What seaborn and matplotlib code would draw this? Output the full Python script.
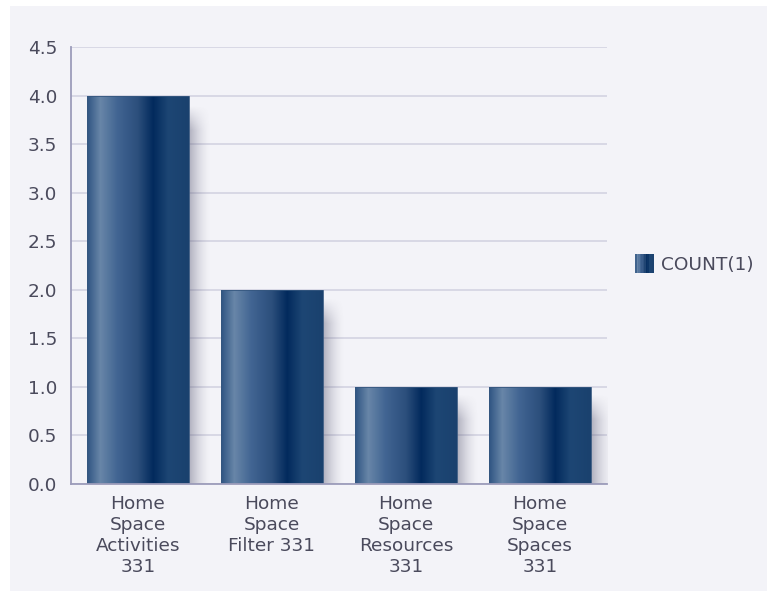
import numpy as np
import pandas as pd
import matplotlib
matplotlib.use("Agg")
import matplotlib.pyplot as plt
import seaborn as sns
from matplotlib.colors import LinearSegmentedColormap
from matplotlib.patches import Rectangle
from matplotlib.legend_handler import HandlerBase

categories = ["Home\nSpace\nActivities\n331", "Home\nSpace\nFilter 331",
              "Home\nSpace\nResources\n331", "Home\nSpace\nSpaces\n331"]
counts = [4, 2, 1, 1]
series_name = "COUNT(1)"
yticks = [0.0, 0.5, 1.0, 1.5, 2.0, 2.5, 3.0, 3.5, 4.0, 4.5]

BG = "#f3f3f8"
TXT = "#4a4a5c"
grad_stops = [(0.0, "#2f5482"), (0.13, "#6886a8"), (0.30, "#416492"),
              (0.50, "#2c4f7c"), (0.65, "#022a5d"), (0.80, "#1d4674"), (1.0, "#1a416e")]
cmap = LinearSegmentedColormap.from_list("bar", grad_stops)

sns.set_theme(style="white")
plt.rcParams["font.family"] = ["DejaVu Sans"]

fig = plt.figure(figsize=(7.67, 5.91), dpi=100)
fig.patch.set_facecolor("white")
fig.add_artist(Rectangle((10 / 767, 0), 1, 1 - 6 / 591, transform=fig.transFigure,
                         facecolor=BG, edgecolor="none", zorder=-10))

ax = fig.add_axes([71 / 767, 1 - 484 / 591, (607 - 71) / 767, (484 - 47) / 591])
ax.set_facecolor(BG)

df = pd.DataFrame({"category": categories, series_name: counts})
sns.barplot(data=df, x="category", y=series_name, ax=ax, width=0.76,
            color="#1f4675", saturation=1, zorder=3)

ax.set_ylim(0, 4.5)
ax.set_yticks(yticks)
ax.set_yticklabels([f"{v:.1f}" for v in yticks])
ax.set_xlabel("")
ax.set_ylabel("")
ax.yaxis.grid(True, color="#d3d3e2", linewidth=1.2, zorder=0)
ax.set_axisbelow(True)
for s in ["top", "right"]:
    ax.spines[s].set_visible(False)
for s in ["left", "bottom"]:
    ax.spines[s].set_color("#9c9cba")
    ax.spines[s].set_linewidth(1.3)
    ax.spines[s].set_zorder(6)
ax.tick_params(axis="both", length=0, labelsize=13.3, labelcolor=TXT)
ax.tick_params(axis="y", pad=10)
ax.tick_params(axis="x", pad=8)
for lab in ax.get_xticklabels():
    lab.set_linespacing(1.2)

grad = np.linspace(0, 1, 256).reshape(1, -1)
# soft shadow image: alpha fades to the right and near the top
sh_x = np.linspace(0, 1, 64)
sh_y = np.linspace(0, 1, 64)
ax_alpha = np.clip(1 - sh_x, 0, 1) ** 1.6
shadow_rgba = np.zeros((64, 64, 4))
shadow_rgba[..., :3] = np.array([0.36, 0.36, 0.46])
for p in list(ax.patches):
    x0, y0 = p.get_x(), p.get_y()
    w, h = p.get_width(), p.get_height()
    top = y0 + h - 0.08
    # vertical fade near top (top row is index 0 with origin upper)
    vfade = np.clip(sh_y * h / 0.25, 0, 1)
    shadow_rgba[..., 3] = 0.45 * np.outer(vfade, ax_alpha)
    ax.imshow(shadow_rgba, aspect="auto", extent=[x0 + w, x0 + w + 0.16, y0 - 0.12, top],
              zorder=2, interpolation="bilinear")
    im = ax.imshow(grad, cmap=cmap, aspect="auto", extent=[x0, x0 + w, y0, y0 + h],
                   zorder=4, interpolation="bilinear")
    im.set_clip_path(p)
    p.set_facecolor("none")
    p.set_edgecolor("#35577f")
    p.set_linewidth(0.6)
    p.set_zorder(5)

ax.set_xlim(-0.5, len(categories) - 0.5)
ax.set_ylim(0, 4.5)


class GradHandler(HandlerBase):
    def create_artists(self, legend, orig_handle, xdescent, ydescent, width, height,
                       fontsize, trans):
        n = 12
        arts = []
        for i in range(n):
            c = cmap((i + 0.5) / n)
            arts.append(Rectangle((-xdescent + width * i / n, -ydescent - 2), width / n + 0.3,
                                  height + 4, facecolor=c, edgecolor="none", transform=trans))
        return arts


handle = Rectangle((0, 0), 1, 1)
fig.legend([handle], [series_name], handler_map={Rectangle: GradHandler()},
           loc="center left", bbox_to_anchor=(635 / 767, 1 - 265 / 591),
           frameon=False, fontsize=13.3, labelcolor=TXT, handlelength=1.0,
           handletextpad=0.4, borderpad=0, borderaxespad=0)

fig.savefig("out.png", dpi=100, facecolor=fig.get_facecolor())
